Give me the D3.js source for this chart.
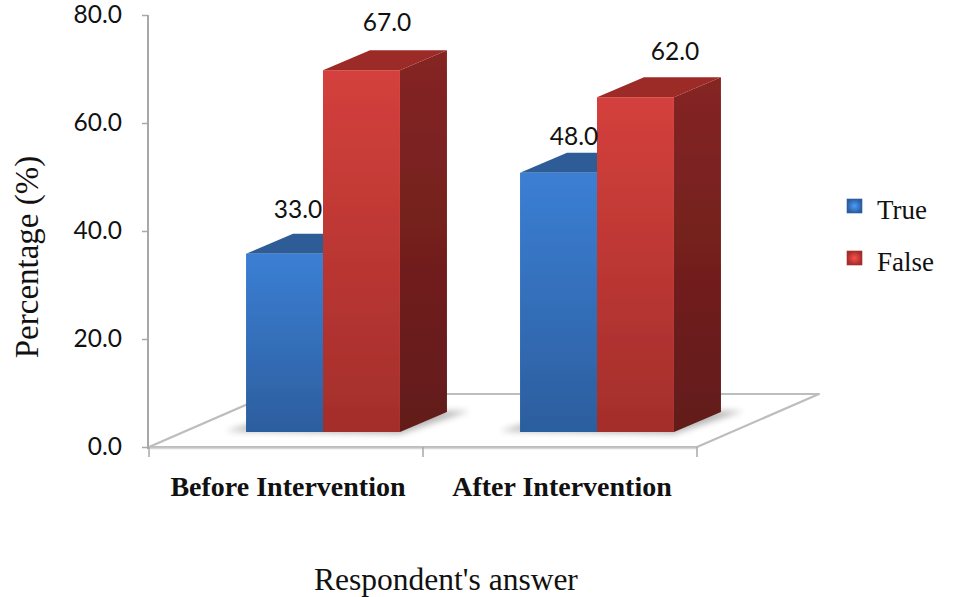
<!DOCTYPE html>
<html>
<head>
<meta charset="utf-8">
<script src="https://cdn.jsdelivr.net/npm/d3@7"></script>
<style>
  html, body { margin: 0; padding: 0; background: #ffffff; }
  svg { display: block; }
</style>
</head>
<body>
<svg id="chart" width="953" height="597"></svg>
<script>
// ---- data ----
const categories = ["Before Intervention", "After Intervention"];
const series = ["True", "False"];
const trueValues = [33.0, 48.0];
const falseValues = [67.0, 62.0];
const yTicks = [0, 20, 40, 60, 80];

// ---- layout ----
const W = 953, H = 597;
const plot = { left: 149, right: 697, top: 15, bottom: 447 };
const floorDepth = { dx: 122, dy: -53 };   // back edge of the floor
const barPlane = { dx: 37, dy: -15 };       // front face of the columns
const barDepth = { dx: 47, dy: -20 };       // column thickness

const svg = d3.select("#chart");
const defs = svg.append("defs");

const y = d3.scaleLinear().domain([0, 80]).range([plot.bottom, plot.top]);
const x0 = d3.scaleBand().domain(categories).range([plot.left, plot.right]);
const x1 = d3.scaleBand().domain(series).range([0, x0.bandwidth()]).paddingInner(0).paddingOuter(0.78);

const palette = {
  True:  { frontTop: "#3b7fd4", frontBot: "#2c5e9e", sideTop: "#2a5590", sideBot: "#1f426f", top: "#2f5c96" },
  False: { frontTop: "#d4403c", frontBot: "#a32e2b", sideTop: "#852523", sideBot: "#621a19", top: "#9c2b28" }
};

// gradients
series.forEach(s => {
  const c = palette[s];
  const gf = defs.append("linearGradient").attr("id", "front-" + s).attr("x1", 0).attr("y1", 0).attr("x2", 0).attr("y2", 1);
  gf.append("stop").attr("offset", "0%").attr("stop-color", c.frontTop);
  gf.append("stop").attr("offset", "100%").attr("stop-color", c.frontBot);
  const gs = defs.append("linearGradient").attr("id", "side-" + s).attr("x1", 0).attr("y1", 0).attr("x2", 0).attr("y2", 1);
  gs.append("stop").attr("offset", "0%").attr("stop-color", c.sideTop);
  gs.append("stop").attr("offset", "100%").attr("stop-color", c.sideBot);
  const gl = defs.append("radialGradient").attr("id", "legend-" + s);
  gl.append("stop").attr("offset", "0%").attr("stop-color", d3.color(c.frontTop).brighter(0.6));
  gl.append("stop").attr("offset", "100%").attr("stop-color", c.frontBot);
});

defs.append("filter").attr("id", "shadowBlur").attr("x", "-20%").attr("y", "-50%").attr("width", "140%").attr("height", "200%")
  .append("feGaussianBlur").attr("stdDeviation", 3);
defs.append("filter").attr("id", "soft")
  .append("feGaussianBlur").attr("stdDeviation", 0.5);

// ---- floor ----
const floorPts = [
  [plot.left, plot.bottom],
  [plot.right, plot.bottom],
  [plot.right + floorDepth.dx, plot.bottom + floorDepth.dy],
  [plot.left + floorDepth.dx, plot.bottom + floorDepth.dy]
];
svg.append("polygon")
  .attr("points", floorPts.map(p => p.join(",")).join(" "))
  .attr("fill", "#ffffff")
  .attr("stroke", "#bdbdbd")
  .attr("stroke-width", 2.2)
  .attr("stroke-linejoin", "round");
svg.append("line")
  .attr("x1", plot.left).attr("x2", plot.right)
  .attr("y1", plot.bottom + 1.5).attr("y2", plot.bottom + 1.5)
  .attr("stroke", "#d6d6d6").attr("stroke-width", 1.5);

// ---- value axis ----
svg.append("line")
  .attr("x1", plot.left - 1).attr("x2", plot.left - 1)
  .attr("y1", y(80)).attr("y2", plot.bottom + 2)
  .attr("stroke", "#a8a8a8").attr("stroke-width", 2);

const yAxis = svg.append("g")
  .attr("transform", `translate(${plot.left - 1},0)`)
  .call(d3.axisLeft(y).tickValues(yTicks).tickFormat(d3.format(".1f")).tickSize(6).tickPadding(20));
yAxis.select(".domain").remove();
yAxis.selectAll(".tick line").attr("stroke", "#a8a8a8").attr("stroke-width", 1.5);
yAxis.selectAll(".tick text")
  .attr("font-family", "Lato, 'Open Sans', sans-serif")
  .attr("font-size", 24.5)
  .attr("fill", "#111")
  .attr("dy", "0.3em");

// ---- category ticks ----
const xTicks = categories.map(c => x0(c)).concat([plot.right]);
svg.selectAll(".xtick").data(xTicks).join("line")
  .attr("class", "xtick")
  .attr("x1", d => d).attr("x2", d => d)
  .attr("y1", plot.bottom).attr("y2", plot.bottom + 10)
  .attr("stroke", "#a8a8a8").attr("stroke-width", 1.5);

svg.selectAll(".xlabel").data(categories).join("text")
  .attr("class", "xlabel")
  .attr("x", d => x0(d) + x0.bandwidth() / 2 + 2)
  .attr("y", 496)
  .attr("text-anchor", "middle")
  .attr("font-family", "'Liberation Serif', 'Times New Roman', serif")
  .attr("font-weight", "bold")
  .attr("font-size", 28)
  .attr("fill", "#111")
  .text(d => d);

// ---- columns ----
const bars = [];
categories.forEach((c, i) => {
  [[series[0], trueValues[i]], [series[1], falseValues[i]]].forEach(([s, v]) => {
    const xl = x0(c) + x1(s) + barPlane.dx;
    const xr = xl + x1.bandwidth();
    const yb = y(0) + barPlane.dy;
    const yt = y(v) + barPlane.dy;
    bars.push({ c, s, v, xl, xr, yb, yt, i });
  });
});

// soft shadows under each cluster
categories.forEach((c, i) => {
  const cb = bars.filter(b => b.i === i);
  const xl = cb[0].xl, xr = cb[cb.length - 1].xr, yb = cb[0].yb;
  const pts = [
    [xl - 20, yb - 1], [xr, yb + 2],
    [xr + barDepth.dx + 22, yb + barDepth.dy - 1], [xl + barDepth.dx, yb + barDepth.dy]
  ];
  svg.append("polygon")
    .attr("points", pts.map(p => p.join(",")).join(" "))
    .attr("fill", "#7a7a7a").attr("opacity", 0.55)
    .attr("filter", "url(#shadowBlur)");
});

const barG = svg.append("g").attr("filter", "url(#soft)");
bars.forEach(b => {
  const g = barG.append("g");
  // right side face
  g.append("polygon")
    .attr("points", [
      [b.xr, b.yt], [b.xr + barDepth.dx, b.yt + barDepth.dy],
      [b.xr + barDepth.dx, b.yb + barDepth.dy], [b.xr, b.yb]
    ].map(p => p.join(",")).join(" "))
    .attr("fill", `url(#side-${b.s})`);
  // top face
  g.append("polygon")
    .attr("points", [
      [b.xl, b.yt], [b.xr, b.yt],
      [b.xr + barDepth.dx, b.yt + barDepth.dy], [b.xl + barDepth.dx, b.yt + barDepth.dy]
    ].map(p => p.join(",")).join(" "))
    .attr("fill", palette[b.s].top);
  // front face
  g.append("rect")
    .attr("x", b.xl).attr("y", b.yt)
    .attr("width", b.xr - b.xl).attr("height", b.yb - b.yt)
    .attr("fill", `url(#front-${b.s})`);
});

// ---- value labels ----
const labelNudge = [[-10, 1], [2, -2], [-8, 9], [16, 0]];
svg.selectAll(".vlabel").data(bars).join("text")
  .attr("class", "vlabel")
  .attr("x", (d, k) => (d.xl + d.xr) / 2 + barDepth.dx / 2 + labelNudge[k][0])
  .attr("y", (d, k) => d.yt + barDepth.dy - 17 + labelNudge[k][1])
  .attr("text-anchor", "middle")
  .attr("font-family", "Lato, 'Open Sans', sans-serif")
  .attr("font-size", 24.5)
  .attr("fill", "#111")
  .text(d => d3.format(".1f")(d.v));

// ---- axis titles ----
svg.append("text")
  .attr("transform", "translate(38,257) rotate(-90)")
  .attr("text-anchor", "middle")
  .attr("font-family", "'Liberation Serif', 'Times New Roman', serif")
  .attr("font-size", 33)
  .attr("fill", "#111")
  .text("Percentage (%)");

svg.append("text")
  .attr("x", 446).attr("y", 590)
  .attr("text-anchor", "middle")
  .attr("font-family", "'Liberation Serif', 'Times New Roman', serif")
  .attr("font-size", 31.5)
  .attr("fill", "#111")
  .text("Respondent's answer");

// ---- legend ----
const legend = svg.append("g").attr("transform", "translate(847,199)");
const lg = legend.selectAll("g").data(series).join("g")
  .attr("transform", (d, i) => `translate(0,${i * 52})`);
lg.append("rect")
  .attr("width", 15).attr("height", 14)
  .attr("fill", d => `url(#legend-${d})`)
  .attr("stroke", d => palette[d].frontBot).attr("stroke-width", 0.6);
lg.append("text")
  .attr("x", 30).attr("y", 20)
  .attr("font-family", "'Liberation Serif', 'Times New Roman', serif")
  .attr("font-size", 27)
  .attr("fill", "#111")
  .text(d => d);
</script>
</body>
</html>
